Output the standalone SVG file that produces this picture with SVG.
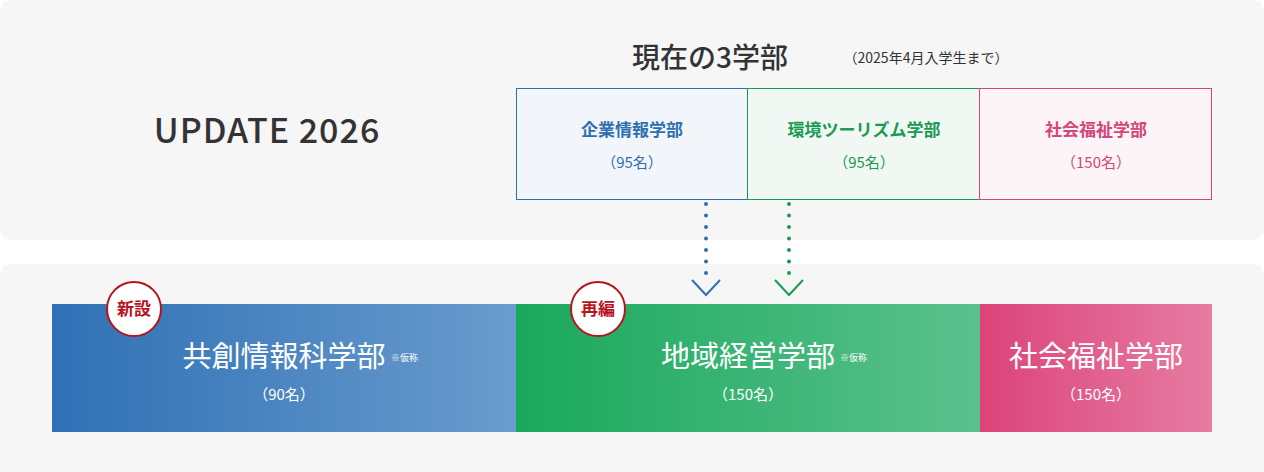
<svg xmlns="http://www.w3.org/2000/svg" width="1264" height="472" viewBox="0 0 1264 472">
<style>
text{font-family:"Noto Sans CJK JP","Noto Sans",sans-serif;text-anchor:middle}
.t{font-size:17px;font-weight:bold}
.n{font-size:15px}
.w{fill:#fff}
.big{font-size:29px;fill:#fff}
.note{font-size:9px;fill:#fff;text-anchor:start}
.badge{fill:#fff;stroke:#b8141e;stroke-width:2}
.bt{font-size:17px;font-weight:bold;fill:#b8141e}
</style>
<defs>
<linearGradient id="gb" x1="0" x2="1"><stop offset="0" stop-color="#2f70b5"/><stop offset="1" stop-color="#6a9ccd"/></linearGradient>
<linearGradient id="gg" x1="0" x2="1"><stop offset="0" stop-color="#1aa85c"/><stop offset="1" stop-color="#5bc18e"/></linearGradient>
<linearGradient id="gp" x1="0" x2="1"><stop offset="0" stop-color="#dc4479"/><stop offset="1" stop-color="#e67ca2"/></linearGradient>
</defs>
<rect width="1264" height="472" fill="#fff"/>
<rect x="0" y="0" width="1264" height="240" rx="10" fill="#f6f6f6"/>
<rect x="0" y="264" width="1264" height="220" rx="10" fill="#f6f6f6"/>
<text x="267" y="143" style="font-size:34px;font-weight:500;letter-spacing:1px" fill="#333">UPDATE 2026</text>
<text x="710" y="68" style="font-size:28px;font-weight:500" fill="#333">現在の3学部</text>
<text x="926" y="63" style="font-size:14px" fill="#333">（2025年4月入学生まで）</text>
<g id="old1"><rect x="516.5" y="88.5" width="231" height="111" fill="#f2f6fa" stroke="#2f6fb0"/><text x="632" y="136" class="t" fill="#2f6fb0">企業情報学部</text><text x="632" y="168" class="n" fill="#2f6fb0">（95名）</text></g>
<g id="old2"><rect x="747.5" y="88.5" width="232" height="111" fill="#f1f8f3" stroke="#1a9a52"/><text x="864" y="136" class="t" fill="#1a9a52">環境ツーリズム学部</text><text x="864" y="168" class="n" fill="#1a9a52">（95名）</text></g>
<g id="old3"><rect x="979.5" y="88.5" width="232" height="111" fill="#fcf4f7" stroke="#d6457a"/><text x="1096" y="136" class="t" fill="#d6457a">社会福祉学部</text><text x="1096" y="168" class="n" fill="#d6457a">（150名）</text></g>
<g id="connectors" fill="none" stroke-width="2">
<line x1="706" y1="204" x2="706" y2="284" stroke="#2f6fb0" stroke-width="4" stroke-linecap="round" stroke-dasharray="0 11.5"/>
<polyline points="692,280 706,295 720,280" stroke="#2f6fb0"/>
<line x1="789" y1="204" x2="789" y2="284" stroke="#1a9a52" stroke-width="4" stroke-linecap="round" stroke-dasharray="0 11.5"/>
<polyline points="775,280 789,295 803,280" stroke="#1a9a52"/>
</g>
<g id="new1"><rect x="52" y="304" width="464" height="128" fill="url(#gb)"/><text x="284" y="367" class="big">共創情報科学部</text><text x="391" y="361" class="note">※仮称</text><text x="284" y="400" class="n w">（90名）</text></g>
<g id="new2"><rect x="516" y="304" width="464" height="128" fill="url(#gg)"/><text x="748" y="367" class="big">地域経営学部</text><text x="840" y="361" class="note">※仮称</text><text x="748" y="400" class="n w">（150名）</text></g>
<g id="new3"><rect x="980" y="304" width="232" height="128" fill="url(#gp)"/><text x="1096" y="367" class="big">社会福祉学部</text><text x="1096" y="400" class="n w">（150名）</text></g>
<g id="badge1"><circle cx="134" cy="309" r="27" class="badge"/><text x="134" y="315" class="bt">新設</text></g>
<g id="badge2"><circle cx="598" cy="309" r="27" class="badge"/><text x="598" y="315" class="bt">再編</text></g>
</svg>
